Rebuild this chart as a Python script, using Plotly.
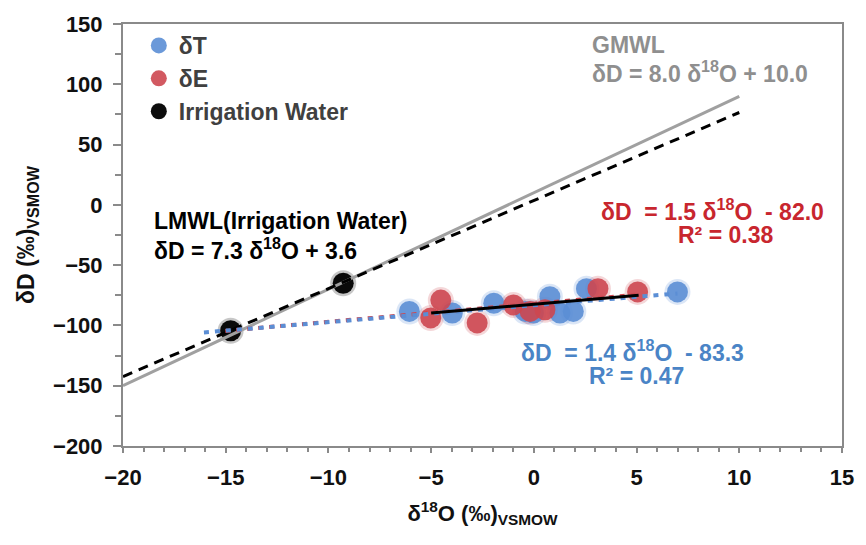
import numpy as np
import plotly.graph_objects as go

# ---- data ----
dT_x = [-6.06, -3.97, -1.95, 0.78, -0.42, -0.02, 1.27, 1.92, 2.56, 6.99]
dT_y = [-88.4, -89.7, -81.6, -76.2, -88.4, -89.7, -89.7, -88.4, -69.5, -72.2]
dE_x = [-5.02, -4.53, -2.76, -0.99, -0.18, 0.54, 3.12, 5.05]
dE_y = [-93.8, -79.0, -97.9, -83.0, -88.4, -87.0, -69.5, -72.2]
irr_x = [-14.76, -9.28]
irr_y = [-104.4, -65.0]

# regression / reference lines: slope, intercept
gmwl = (8.0, 10.0)
lmwl = (7.3, 3.6)
fit_T = (1.4, -83.3)
fit_E = (1.5, -82.0)
fit_all = (1.46, -82.4)
line_range = (-20, 10)
fit_all_range = (-5.0, 5.1)
backcast = 10

x_ticks = [-20, -15, -10, -5, 0, 5, 10, 15]
y_ticks = [-200, -150, -100, -50, 0, 50, 100, 150]

BLUE = "#5b8ed5"
RED = "#cd4750"
FONT = "Liberation Sans"

def line_pts(p, lo, hi):
    xs = np.array([lo, hi], dtype=float)
    return xs, p[0] * xs + p[1]

fig = go.Figure()

# halos (soft edges)
for xs, ys, c in [(dT_x, dT_y, BLUE), (dE_x, dE_y, RED), (irr_x, irr_y, "#000000")]:
    fig.add_trace(go.Scatter(x=xs, y=ys, mode="markers", showlegend=False, hoverinfo="skip",
                             marker=dict(size=26, color=c, opacity=0.22, line=dict(width=0))))
# markers
fig.add_trace(go.Scatter(x=dT_x, y=dT_y, mode="markers", name="δT",
                         marker=dict(size=21, color=BLUE, opacity=0.9, line=dict(width=0))))
fig.add_trace(go.Scatter(x=dE_x, y=dE_y, mode="markers", name="δE",
                         marker=dict(size=21, color=RED, opacity=0.9, line=dict(width=0))))
fig.add_trace(go.Scatter(x=irr_x, y=irr_y, mode="markers", name="Irrigation Water",
                         marker=dict(size=21, color="#000000", opacity=0.95, line=dict(width=0))))

# lines
xs, ys = line_pts(gmwl, *line_range)
fig.add_trace(go.Scatter(x=xs, y=ys, mode="lines", showlegend=False, hoverinfo="skip",
                         line=dict(color="#a0a0a0", width=3)))
xs, ys = line_pts(lmwl, *line_range)
fig.add_trace(go.Scatter(x=xs, y=ys, mode="lines", showlegend=False, hoverinfo="skip",
                         line=dict(color="#000000", width=3, dash="10px,7px")))
xs, ys = line_pts(fit_E, min(dE_x) - backcast, max(dE_x))
fig.add_trace(go.Scatter(x=xs, y=ys, mode="lines", showlegend=False, hoverinfo="skip",
                         line=dict(color=RED, width=4, dash="5px,6px")))
xs, ys = line_pts(fit_T, min(dT_x) - backcast, max(dT_x))
fig.add_trace(go.Scatter(x=xs, y=ys, mode="lines", showlegend=False, hoverinfo="skip",
                         line=dict(color=BLUE, width=4, dash="5px,6px")))
xs, ys = line_pts(fit_all, *fit_all_range)
fig.add_trace(go.Scatter(x=xs, y=ys, mode="lines", showlegend=False, hoverinfo="skip",
                         line=dict(color="#000000", width=3)))

def ann(x, y, text, color, xanchor="left"):
    fig.add_annotation(x=x, y=y, xref="x", yref="y", text=text, showarrow=False,
                       xanchor=xanchor, yanchor="middle", align="left",
                       font=dict(family=FONT, size=23, color=color, weight="bold"))

ann(2.75, 133, "GMWL", "#8f8f8f")
ann(2.75, 110, "δD = 8.0 δ<sup>18</sup>O + 10.0", "#8f8f8f")
ann(-18.6, -26, "LMWL(Irrigation Water)<br>δD = 7.3 δ<sup>18</sup>O + 3.6", "#000000")
ann(8.7, -4, "δD  = 1.5 δ<sup>18</sup>O  - 82.0", "#c8262e", xanchor="center")
ann(9.35, -25, "R² = 0.38", "#c8262e", xanchor="center")
ann(4.8, -121, "δD  = 1.4 δ<sup>18</sup>O  - 83.3", "#4a84c6", xanchor="center")
ann(5.0, -142, "R² = 0.47", "#4a84c6", xanchor="center")

axis_common = dict(showline=True, linecolor="#8a8a8a", linewidth=2, mirror=True,
                   showgrid=False, zeroline=False, ticks="outside", tickcolor="#8a8a8a",
                   tickwidth=2,
                   tickfont=dict(family=FONT, size=22, color="#111111", weight="bold"))

fig.update_xaxes(range=[-20, 15], tickvals=x_ticks, ticklen=5,
                 minor=dict(dtick=1, ticks="outside", ticklen=4, tickcolor="#8a8a8a", tickwidth=1.5),
                 ticklabelstandoff=6,
                 title=dict(text="δ<sup>18</sup>O (‰)<sub>VSMOW</sub>", standoff=16,
                            font=dict(family=FONT, size=22, color="#111111", weight="bold")),
                 **axis_common)
fig.update_yaxes(range=[-200, 150], tickvals=y_ticks, ticklen=8,
                 minor=dict(dtick=25, ticks="outside", ticklen=6, tickcolor="#8a8a8a", tickwidth=1.5),
                 ticklabelstandoff=6,
                 title=dict(text="δD (‰)<sub>VSMOW</sub>", standoff=12,
                            font=dict(family=FONT, size=23, color="#111111", weight="bold")),
                 **axis_common)

fig.update_layout(
    width=866, height=545,
    margin=dict(l=123, r=19, t=14, b=99),
    paper_bgcolor="white", plot_bgcolor="white",
    showlegend=True,
    legend=dict(x=0.022, y=1.0, xanchor="left", yanchor="top", bgcolor="rgba(0,0,0,0)",
                font=dict(family=FONT, size=23, color="#404040", weight="bold"),
                itemsizing="trace", tracegroupgap=0),
)

fig.write_html("out.html")
